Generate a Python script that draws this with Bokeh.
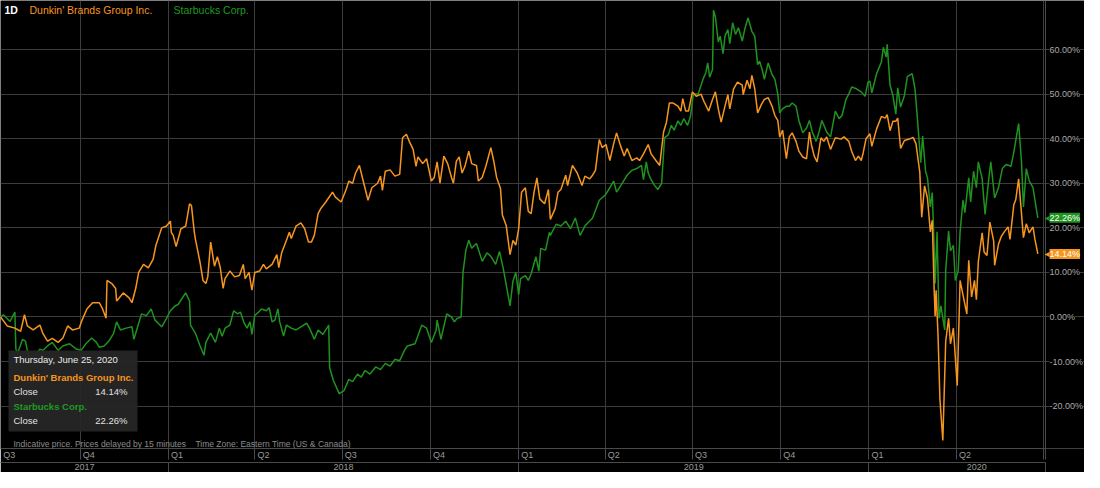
import pandas as pd
from bokeh.plotting import figure
from bokeh.models import (Range1d, LinearAxis, FixedTicker, Grid, Span,
                          CustomJSTickFormatter, Label, BoxAnnotation)
from bokeh.embed import file_html
from bokeh.resources import INLINE

# ---------------- data (percent change since start) ----------------
START = "2017-07-10"

dnkn_day = [0, 7, 15, 21, 25, 28, 34, 41, 44, 49,
            54, 60, 65, 70, 75, 82, 85, 90, 96, 103,
            106, 110, 111, 116, 120, 121, 128, 134, 137, 141,
            144, 149, 154, 159, 162, 168, 173, 177, 178, 180,
            183, 188, 193, 197, 199, 202, 203, 208, 211, 214,
            216, 219, 223, 226, 229, 232, 234, 239, 244, 249,
            253, 255, 259, 262, 265, 270, 274, 277, 283, 288,
            290, 293, 298, 301, 303, 308, 313, 317, 321, 324,
            327, 331, 334, 339, 346, 349, 355, 360, 363, 367,
            370, 374, 378, 383, 387, 393, 396, 398, 401, 406,
            411, 416, 419, 423, 426, 430, 433, 435, 440, 444,
            449, 452, 455, 458, 462, 466, 470, 472, 475, 478,
            481, 484, 488, 491, 496, 498, 502, 506, 511, 514,
            517, 521, 523, 527, 531, 534, 537, 540, 543, 547,
            550, 553, 556, 559, 562, 567, 571, 573, 578, 581,
            584, 589, 591, 596, 601, 606, 609, 614, 617, 620,
            624, 627, 631, 635, 639, 642, 646, 650, 653, 658,
            663, 666, 670, 675, 678, 683, 687, 691, 694, 697,
            701, 706, 709, 711, 714, 717, 721, 725, 730, 733,
            738, 742, 745, 748, 751, 755, 758, 760, 764, 768,
            773, 774, 778, 781, 783, 786, 789, 793, 796, 800,
            804, 807, 810, 812, 815, 819, 822, 825, 829, 832,
            836, 840, 843, 845, 848, 851, 855, 858, 861, 865,
            870, 876, 879, 884, 887, 891, 894, 897, 899, 902,
            906, 908, 913, 918, 922, 924, 927, 930, 933, 935,
            938, 942, 948, 951, 954, 958, 960, 963, 966, 969,
            971, 973, 974, 975, 977, 979, 982, 985, 988, 990,
            993, 997, 1000, 1004, 1007, 1009, 1012, 1015, 1017, 1019,
            1023, 1025, 1028, 1031, 1035, 1036, 1040, 1043, 1046, 1050,
            1052, 1056, 1058, 1061, 1064, 1066, 1069, 1072, 1076, 1078,
            1081]
dnkn_pct = [0, -2, -2.5, -3.2, 0.5, -2, -2.9, -1.8, -3.6, -5.4,
            -4.8, -5.7, -4.7, -2, -2.9, -2.5, -0.7, 1.8, 3.2, 3.2,
            2, -0.3, 8.2, 7.5, 6.4, 3.6, 5.4, 4.3, 3.2, 6.5,
            10, 11.8, 11, 12.9, 16.1, 20, 20.4, 21.5, 19, 18.3,
            15.8, 19.8, 20.4, 25.4, 25, 19, 17.6, 12.2, 8.2, 7.5,
            9, 16.8, 11.4, 13.5, 11.1, 6.4, 8.6, 10.3, 9, 9.3,
            11.8, 8.6, 10, 6, 10, 10.3, 11.8, 10.8, 11.8, 14,
            11.1, 14.4, 17.2, 19, 17.6, 20.4, 21.1, 19.8, 16.8, 16.8,
            18.3, 23.2, 24.4, 25.8, 28, 26.9, 25.8, 28.5, 30.5, 30,
            32.3, 34, 30.5, 26.2, 29, 30, 31.6, 28.4, 32.7, 33,
            31.6, 32, 40.2, 41, 39.4, 37.6, 33.8, 35.9, 34.4, 35.5,
            30.5, 31.3, 34.8, 30, 36.1, 34.4, 31.3, 30, 34.9, 35.9,
            32.3, 33.8, 37.2, 34.4, 34, 30.5, 31.3, 34, 38, 35,
            31.3, 28.9, 22.9, 20.5, 14, 17.2, 16.1, 19.8, 28, 29,
            23.7, 23.2, 28, 31.2, 26.5, 25.4, 28.6, 21.9, 24.3, 28,
            28.6, 31.8, 29.5, 34, 32.3, 29.5, 31.6, 31, 31.8, 32.9,
            39.8, 38, 38.7, 35.1, 38.9, 41.3, 38.5, 36.1, 37.8, 35.1,
            35.7, 35.1, 36.6, 38.7, 36.6, 35.1, 34, 41.5, 43.7, 48,
            48, 47.3, 46.2, 49, 46.2, 46.2, 50.5, 49.5, 50, 48.4,
            46.2, 48.8, 50.5, 46.7, 43.7, 47.3, 49.9, 46.7, 51.2, 52.7,
            52, 49.9, 53.1, 51.2, 54.2, 51.2, 45.8, 47.7, 48.8, 49.2,
            47.3, 45.2, 44.1, 40.4, 41.9, 35.5, 40.4, 41.3, 39.4, 37.2,
            35.9, 35.5, 41.5, 38.7, 36.1, 34.8, 40.2, 39.4, 40.4, 37.6,
            40.2, 39.9, 40.4, 39.4, 37.2, 35.1, 36.1, 35.1, 36.8, 40,
            41.1, 38.3, 42.2, 45, 44.6, 45.4, 41.8, 43.9, 43.9, 44.6,
            37.8, 39.6, 40, 40.3, 38.9, 32.5, 22.4, 29.4, 26.7, 19.1,
            21.7, 6, 0.2, 6, -4.1, -18.5, -27.7, -5.5, -0.3, -6,
            -2.5, -15.4, 8.2, 3.9, 0.7, 12.7, 4.5, 8.2, 3.9, 12.5,
            18.9, 14.6, 13.8, 21.3, 17, 11.6, 16.3, 18.1, 19.1, 20.2,
            17.4, 25.2, 26.3, 31, 23.2, 17.8, 20.9, 18.9, 20.2, 17.4,
            14.14]

sbux_day = [0, 3, 10, 15, 16, 18, 23, 26, 29, 34,
            41, 44, 49, 54, 60, 65, 72, 79, 84, 89,
            95, 100, 103, 108, 113, 118, 121, 125, 131, 137,
            139, 144, 147, 152, 157, 161, 168, 173, 177, 182,
            185, 193, 197, 198, 203, 208, 212, 214, 219, 224,
            228, 231, 234, 239, 243, 247, 250, 254, 257, 260,
            262, 265, 269, 272, 277, 280, 283, 286, 289, 291,
            295, 298, 303, 308, 313, 319, 322, 327, 331, 336,
            341, 342, 343, 347, 353, 358, 363, 367, 372, 376,
            380, 385, 391, 396, 401, 406, 411, 416, 421, 424,
            432, 439, 444, 449, 454, 455, 459, 465, 470, 473,
            476, 480, 482, 485, 488, 491, 496, 502, 507, 511,
            516, 520, 524, 527, 531, 534, 537, 540, 542, 547,
            550, 553, 558, 561, 563, 568, 572, 573, 579, 584,
            589, 594, 599, 604, 609, 617, 624, 630, 635, 639,
            642, 647, 653, 658, 663, 668, 670, 673, 675, 678,
            681, 685, 689, 692, 696, 699, 702, 706, 709, 712,
            716, 719, 722, 727, 732, 735, 737, 739, 742, 743,
            745, 748, 750, 753, 755, 758, 760, 763, 766, 769,
            773, 776, 779, 783, 786, 789, 791, 794, 796, 800,
            804, 807, 810, 812, 815, 819, 822, 825, 829, 832,
            836, 840, 843, 846, 850, 853, 856, 861, 865, 870,
            874, 877, 881, 884, 887, 892, 897, 901, 904, 906,
            908, 913, 918, 920, 923, 924, 927, 930, 933, 935,
            938, 942, 945, 950, 953, 956, 959, 961, 964, 966,
            969, 971, 973, 974, 976, 978, 980, 984, 985, 988,
            990, 993, 995, 998, 1000, 1003, 1005, 1009, 1011, 1014,
            1017, 1019, 1023, 1026, 1030, 1032, 1036, 1040, 1044, 1048,
            1053, 1056, 1061, 1064, 1066, 1069, 1072, 1076, 1078, 1081]
sbux_pct = [0, 0.5, -1, 1.1, -7.2, -8, -5, -5.4, -8.6, -9.3,
            -7.2, -7.5, -6.5, -5.7, -7.5, -6.5, -6, -7.2, -7.5, -6,
            -4.7, -5.7, -6.8, -6.5, -5.4, -3.6, -1.1, -2.9, -2.5, -2.2,
            -5, -1.4, 0.7, 0.3, 1.8, -0.7, -2.2, -0.3, 1.4, 2.5,
            2.8, 5.4, 3.6, -1.8, -3.6, -6.5, -8.6, -5.7, -3.6, -5.7,
            -2.5, -4.3, -2.5, -1.8, 1.4, 0.7, 1.1, -1.4, -2.5, -1.1,
            -3.9, 0.4, 1.1, 1.8, 1.4, 2.1, -1.1, -0.7, 1.8, -1.1,
            -4.3, -1.8, -2.5, -2.9, -2.2, -1.4, -2.5, -5, -2.9, -3.9,
            -2.2, -1.8, -11.4, -14.3, -17.2, -16.5, -14, -14.5, -12.8, -13.5,
            -12, -12.8, -11.2, -11.8, -10.4, -11, -9.5, -9.8, -7.5, -6.5,
            -6, -1.8, -2.5, -5.7, -2.9, -0.7, -5, 0.7, 0, -1.1,
            -0.3, 0, 10, 15, 17.2, 15.4, 16.5, 12.5, 14.4, 13.6,
            11.8, 14.7, 10.8, 7.2, 2.5, 8, 10, 5, 8.6, 9.3,
            8.2, 9.7, 13.5, 10.3, 15.4, 15, 19, 18.3, 20.8, 20.4,
            21.5, 19.8, 22.2, 18.3, 20.4, 22.2, 26.2, 27.3, 29, 30.5,
            28, 29.7, 31.8, 32.9, 33.3, 34, 30.8, 34.8, 32.3, 30.8,
            29.7, 28.6, 30, 40.2, 40.9, 43, 41.9, 44, 43, 44.5,
            43, 45, 50, 50, 53.3, 54.8, 57, 53.8, 55.5, 68.8,
            67.3, 61.7, 63, 59.1, 63, 64.5, 61.3, 66, 63.4, 64.9,
            61.9, 64.9, 67.1, 64.1, 63, 56.6, 57.4, 55.3, 53.3, 57,
            54.4, 53.3, 50.1, 45.8, 46.7, 47.3, 47.3, 48, 47.3, 44.1,
            41.3, 42.4, 44.1, 41.5, 39.4, 41.5, 44.1, 41.5, 40.4, 46.2,
            44.5, 45.2, 48.8, 50, 51.6, 51.2, 50.5, 49.5, 52.7, 52.9,
            50.3, 54.6, 57.2, 60.5, 58.3, 61.2, 52, 49.7, 45.5, 51.4,
            47.1, 49.7, 53.9, 54.6, 51.2, 43.2, 34.6, 40.6, 32.7, 31.2,
            24.7, 27.9, 15.4, 7.5, 19.1, -0.3, 2.5, -2.9, 10.4, 19.3,
            14.8, 16.1, 8.2, 10.4, 19.1, 26.2, 23.4, 31.2, 25.8, 32.7,
            29, 34.8, 31, 23, 31.2, 34.8, 26.7, 29, 33.3, 34.2,
            33.8, 37, 43.4, 34.8, 24.7, 33.3, 30.6, 29, 26.2, 22.26]

y_ticks = [-20, -10, 0, 10, 20, 30, 40, 50, 60]
quarter_starts = ["2017-07-01", "2017-10-01", "2018-01-01", "2018-04-01",
                  "2018-07-01", "2018-10-01", "2019-01-01", "2019-04-01", "2019-07-01",
                  "2019-10-01", "2020-01-01", "2020-04-01", "2020-07-01"]
quarter_labels = ["Q3", "Q4", "Q1", "Q2", "Q3", "Q4", "Q1", "Q2", "Q3", "Q4", "Q1", "Q2", "Q3"]
year_starts = ["2017-01-01", "2018-01-01", "2019-01-01", "2020-01-01", "2021-01-01"]
year_labels = ["2017", "2018", "2019", "2020"]

series_names = ["Dunkin' Brands Group Inc.", "Starbucks Corp."]
last_date_text = "Thursday, June 25, 2020"
NB = "\u00a0"
footnote = ("Indicative price. Prices delayed by 15 minutes" + NB * 4 +
            "Time Zone: Eastern Time (US & Canada)")

# ---------------- styling ----------------
ORANGE = "#f7961f"
GREEN = "#1f931f"
GREEN_TXT = "#1f9a1f"
GRID = "#3c3c3c"
AXL = "#4a4a4a"
FONT = "Liberation Sans"

def ms(ts):
    return pd.Timestamp(ts).value / 1e6

def to_dt(days):
    s = pd.Timestamp(START)
    return [s + pd.Timedelta(days=int(d)) for d in days]

W, H = 1084, 472
PLOT_W = 1045          # width of the price area; the rest is the value-label column
x0 = ms("2017-07-10")
x1 = ms("2020-07-03")  # position of the value axis line
x_ext = x1 + (x1 - x0) * (W - PLOT_W) / PLOT_W

p = figure(width=W, height=H, x_range=Range1d(x0, x_ext), y_range=Range1d(-29.5, 71),
           x_axis_location=None, y_axis_location=None,
           output_backend="svg", toolbar_location=None,
           min_border=0, min_border_left=0, min_border_right=0,
           min_border_top=0, min_border_bottom=0,
           background_fill_color="black", border_fill_color="black",
           outline_line_color=None)
p.grid.visible = False

# grid lines
qb = [ms(q) for q in quarter_starts if x0 < ms(q) < x1]
p.add_layout(Grid(dimension=0, ticker=FixedTicker(ticks=qb), grid_line_color=GRID, grid_line_width=1))
p.add_layout(Grid(dimension=1, ticker=FixedTicker(ticks=y_ticks), grid_line_color=GRID, grid_line_width=1))

# series
p.line(to_dt(sbux_day), sbux_pct, line_color=GREEN, line_width=1.5)
p.line(to_dt(dnkn_day), dnkn_pct, line_color=ORANGE, line_width=1.5)

# value axis line and labels (column on the right)
p.add_layout(Span(location=x1, dimension="height", line_color=AXL, line_width=1))
for t in y_ticks:
    p.add_layout(Label(x=x1, y=t, x_offset=4, text=f"{t:.2f}%", text_color="#a8a8a8",
                       text_font=FONT, text_font_size="9px", text_baseline="middle",
                       text_align="left", background_fill_color="black"))

LOOKUP = """
let best = -1, bd = Infinity;
for (let i = 0; i < tks.length; i++) { const d = Math.abs(tks[i] - tick); if (d < bd) { bd = d; best = i; } }
return (best >= 0 && bd < 1e6) ? labs[best] : "";
"""

ROW_TICK = 11
ROW_STANDOFF = -10

# quarter row
day_ms = 86400000.0
q_lab_ticks = [max(ms(q), x0) + 9 * day_ms for q in quarter_starts]
qfmt = CustomJSTickFormatter(args=dict(tks=q_lab_ticks, labs=quarter_labels), code=LOOKUP)
qax = LinearAxis(ticker=FixedTicker(ticks=[t for t in q_lab_ticks if t < x1], minor_ticks=qb + [x1]),
                 formatter=qfmt, bounds=(x0, x1), axis_line_color=AXL,
                 major_tick_out=0, major_tick_in=0, minor_tick_out=ROW_TICK, minor_tick_in=0,
                 minor_tick_line_color=AXL, major_label_standoff=ROW_STANDOFF,
                 major_label_text_color="#9a9a9a", major_label_text_font=FONT,
                 major_label_text_font_size="9px")
p.add_layout(qax, "below")

# year row (its axis line is the separator under the quarter row)
y_lab_ticks = []
for i in range(len(year_labels)):
    a = max(ms(year_starts[i]), x0)
    b = min(ms(year_starts[i + 1]), x_ext)
    y_lab_ticks.append((a + b) / 2)
yfmt = CustomJSTickFormatter(args=dict(tks=y_lab_ticks, labs=year_labels), code=LOOKUP)
ybounds = [ms(y) for y in year_starts if x0 < ms(y) < x1] + [x1]
yrax = LinearAxis(ticker=FixedTicker(ticks=[t for t in y_lab_ticks if t <= x1], minor_ticks=ybounds),
                  formatter=yfmt, bounds=(x0, x1), axis_line_color=AXL,
                  major_tick_out=0, major_tick_in=0, minor_tick_out=ROW_TICK, minor_tick_in=0,
                  minor_tick_line_color=AXL, major_label_standoff=ROW_STANDOFF,
                  major_label_text_color="#9a9a9a", major_label_text_font=FONT,
                  major_label_text_font_size="9px")
p.add_layout(yrax, "below")

# legend header
top = p.y_range.end
for txt, col, dx, bold in [("1D", "#ffffff", 4, "bold"), (series_names[0], ORANGE, 29, "normal"),
                           (series_names[1], GREEN_TXT, 173, "normal")]:
    p.add_layout(Label(x=x0, y=top, x_offset=dx, y_offset=-9, text=txt, text_color=col,
                       text_font=FONT, text_font_size="10.5px", text_font_style=bold,
                       text_baseline="middle", text_align="left"))

# last value badges with small pointer
for val, col in [(sbux_pct[-1], GREEN), (dnkn_pct[-1], ORANGE)]:
    p.add_layout(Label(x=x1, y=val, x_offset=-1, text="\u25C2", text_color=col,
                       text_font="DejaVu Sans", text_font_size="10px", text_baseline="middle",
                       text_align="left"))
    p.add_layout(Label(x=x1, y=val, x_offset=4, text=f"{val:.2f}%", text_color="white",
                       text_font=FONT, text_font_size="9px", text_baseline="middle",
                       text_align="left", background_fill_color=col))

# info box
p.add_layout(BoxAnnotation(left=8, right=137, bottom=17, top=98,
                           left_units="screen", right_units="screen",
                           bottom_units="screen", top_units="screen",
                           fill_color="#262626", fill_alpha=0.95, line_color=None))
rows = [(last_date_text, "#e8e8e8", 89, "normal", None, None),
        (series_names[0], ORANGE, 71, "bold", None, None),
        ("Close", "#e0e0e0", 57, "normal", f"{dnkn_pct[-1]:.2f}%", "#e0e0e0"),
        (series_names[1], GREEN_TXT, 42, "bold", None, None),
        ("Close", "#e0e0e0", 28, "normal", f"{sbux_pct[-1]:.2f}%", "#e0e0e0")]
for txt, col, yy, st, rtxt, rcol in rows:
    p.add_layout(Label(x=13, y=yy, x_units="screen", y_units="screen", text=txt, text_color=col,
                       text_font=FONT, text_font_size="9.5px", text_font_style=st,
                       text_baseline="middle", text_align="left"))
    if rtxt:
        p.add_layout(Label(x=127, y=yy, x_units="screen", y_units="screen", text=rtxt,
                           text_color=rcol, text_font=FONT, text_font_size="9.5px",
                           text_baseline="middle", text_align="right"))

p.add_layout(Label(x=13, y=5, x_units="screen", y_units="screen", text=footnote,
                   text_color="#8c8c8c", text_font=FONT, text_font_size="8.5px",
                   text_baseline="middle", text_align="left"))

open("out.html", "w").write(file_html(p, INLINE))
